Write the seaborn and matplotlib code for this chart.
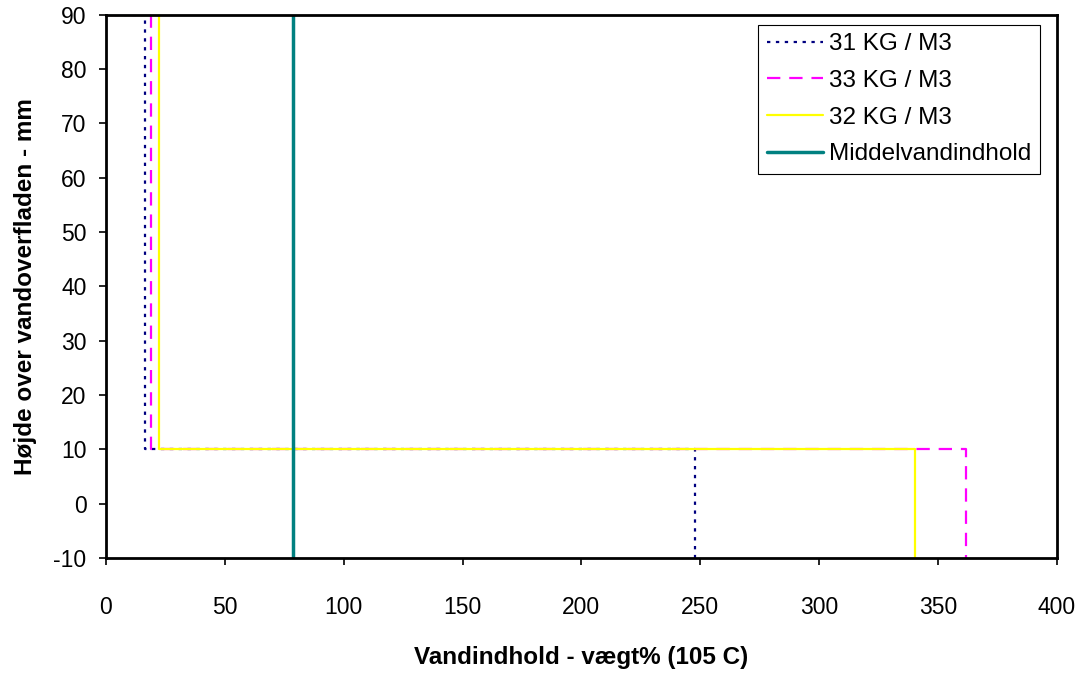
import matplotlib.pyplot as plt
import seaborn as sns
import numpy as np
import pandas as pd

# Data: step profiles (water content vs height)
heights = [90, 90, 10, 10, -10]
kg31 = [0, 16.4, 16.4, 248, 248]
kg33 = [0, 18.9, 18.9, 362, 362]
kg32 = [0, 22.3, 22.3, 340.2, 340.2]
mean_heights = [-10, 90]
mean_value = [78.6, 78.6]

sns.set_theme(style="white")
plt.rcParams["font.family"] = ["Liberation Sans", "DejaVu Sans"]
plt.rcParams["axes.unicode_minus"] = False

fig = plt.figure(figsize=(10.86, 6.74), dpi=100)
ax = fig.add_axes([0.0976, 0.172, 0.8755, 0.806])

common = dict(sort=False, estimator=None, ax=ax)
sns.lineplot(x=kg31, y=heights, color="#000080",
             linestyle=(0, (1.5, 2.5)), linewidth=1.6, label="31 KG / M3", **common)
sns.lineplot(x=kg33, y=heights, color="#FF00FF",
             linestyle=(0, (6, 4)), linewidth=1.6, label="33 KG / M3", **common)
sns.lineplot(x=kg32, y=heights, color="#FFFF00",
             linewidth=1.6, label="32 KG / M3", **common)
sns.lineplot(x=mean_value, y=mean_heights, color="#008080",
             linewidth=2.5, label="Middelvandindhold", **common)

ax.set_xlim(0, 400)
ax.set_ylim(-10, 90)
ax.set_xticks(np.arange(0, 401, 50))
ax.set_yticks(np.arange(-10, 91, 10))
ax.tick_params(axis="both", direction="out", length=5, width=1.2,
               labelsize=16.5, color="black", labelcolor="black",
               bottom=True, left=True)
ax.tick_params(axis="x", pad=22)
ax.tick_params(axis="y", pad=9)
for sp in ax.spines.values():
    sp.set_color("black")
    sp.set_linewidth(2)

ax.set_xlabel("Vandindhold - vægt% (105 C)", fontsize=17.5, fontweight="bold",
              labelpad=20, color="black")
ax.set_ylabel("Højde over vandoverfladen - mm", fontsize=17.5, fontweight="bold",
              labelpad=12, color="black")

leg = ax.legend(loc="upper right", bbox_to_anchor=(0.982, 0.9816), fontsize=17.5,
                frameon=True, fancybox=False, edgecolor="black", framealpha=1,
                handlelength=2.3, handletextpad=0.25, borderpad=0.35, labelspacing=0.6,
                borderaxespad=0.0)
leg.get_frame().set_linewidth(0.8)
for t in leg.get_texts():
    t.set_color("black")

fig.savefig("out.png", dpi=100)
